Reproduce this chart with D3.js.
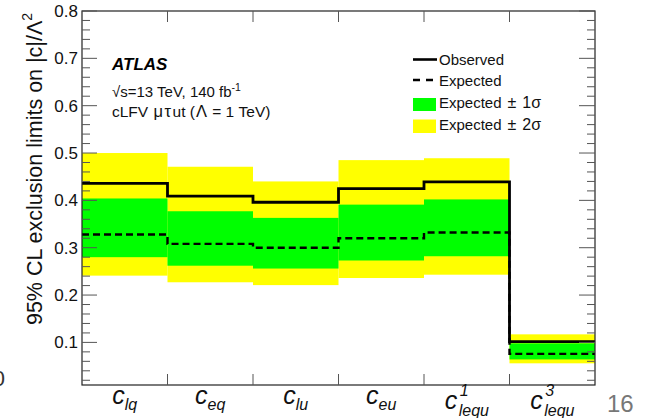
<!DOCTYPE html>
<html>
<head>
<meta charset="utf-8">
<script src="https://cdn.jsdelivr.net/npm/d3@7"></script>
<style>
  html, body { margin: 0; padding: 0; background: #fff; }
  svg { display: block; font-family: "Liberation Sans", Arial, Helvetica, sans-serif; }
</style>
</head>
<body>
<svg id="chart" width="648" height="418"></svg>
<script>
// Wilson coefficients (bin labels): base letter, subscript, superscript
const categories = ["lq", "eq", "lu", "eu", "lequ1", "lequ3"];
const labelSub = ["lq", "eq", "lu", "eu", "lequ", "lequ"];
const labelSup = ["", "", "", "", "1", "3"];

// 95% CL upper limits on |c|/Λ² (Λ = 1 TeV)
const observed   = [0.436, 0.409, 0.396, 0.425, 0.439, 0.1015];
const expected   = [0.328, 0.308, 0.300, 0.320, 0.332, 0.0757];
const oneSigLow  = [0.280, 0.262, 0.256, 0.273, 0.282, 0.064];
const oneSigHigh = [0.404, 0.377, 0.363, 0.391, 0.402, 0.098];
const twoSigLow  = [0.241, 0.227, 0.221, 0.236, 0.243, 0.0558];
const twoSigHigh = [0.500, 0.471, 0.440, 0.485, 0.489, 0.117];

const yMajorTicks = [0.1, 0.2, 0.3, 0.4, 0.5, 0.6, 0.7, 0.8];

const svg = d3.select("#chart");
const frame = { left: 82, right: 595, top: 11, bottom: 385 };

const x = d3.scaleBand().domain(categories).range([frame.left, frame.right]).paddingInner(0).paddingOuter(0);
const y = d3.scaleLinear().domain([0.01, 0.8]).range([frame.bottom, frame.top]);

const YELLOW = "#ffff00", GREEN = "#00ff00";

// ±2σ and ±1σ bands
const bands = svg.append("g");
categories.forEach((c, i) => {
  bands.append("rect")
    .attr("x", x(c)).attr("width", x.bandwidth())
    .attr("y", y(twoSigHigh[i])).attr("height", y(twoSigLow[i]) - y(twoSigHigh[i]))
    .attr("fill", YELLOW);
});
categories.forEach((c, i) => {
  bands.append("rect")
    .attr("x", x(c)).attr("width", x.bandwidth())
    .attr("y", y(oneSigHigh[i])).attr("height", y(oneSigLow[i]) - y(oneSigHigh[i]))
    .attr("fill", GREEN);
});

// step lines
function stepPoints(vals) {
  const pts = [];
  categories.forEach((c, i) => {
    pts.push([x(c), y(vals[i])]);
    pts.push([x(c) + x.bandwidth(), y(vals[i])]);
  });
  return pts;
}
const line = d3.line();
svg.append("path").attr("d", line(stepPoints(expected)))
  .attr("fill", "none").attr("stroke", "#000").attr("stroke-width", 2.4)
  .attr("stroke-dasharray", "7,4");
svg.append("path").attr("d", line(stepPoints(observed)))
  .attr("fill", "none").attr("stroke", "#000").attr("stroke-width", 2.8);

// frame
const axes = svg.append("g");
axes.append("rect")
  .attr("x", frame.left).attr("y", frame.top)
  .attr("width", frame.right - frame.left).attr("height", frame.bottom - frame.top)
  .attr("fill", "none").attr("stroke", "#222").attr("stroke-width", 1.2);

// y ticks (left and mirrored right)
const minorTicks = d3.range(2, 80, 2).map(v => v / 100).filter(v => Math.abs(v * 10 - Math.round(v * 10)) > 1e-6);
const TICK = "#555";
yMajorTicks.forEach(v => {
  axes.append("line").attr("x1", frame.left).attr("x2", frame.left + 15)
    .attr("y1", y(v)).attr("y2", y(v)).attr("stroke", TICK).attr("stroke-width", 1);
  axes.append("line").attr("x1", frame.right).attr("x2", frame.right - 16)
    .attr("y1", y(v)).attr("y2", y(v)).attr("stroke", TICK).attr("stroke-width", 1);
  axes.append("text").attr("x", frame.left - 4).attr("y", y(v) + 6)
    .attr("text-anchor", "end").attr("font-size", 17).attr("fill", "#111")
    .text(d3.format(".1f")(v));
});
minorTicks.forEach(v => {
  axes.append("line").attr("x1", frame.left).attr("x2", frame.left + 8)
    .attr("y1", y(v)).attr("y2", y(v)).attr("stroke", TICK).attr("stroke-width", 1);
  axes.append("line").attr("x1", frame.right).attr("x2", frame.right - 8)
    .attr("y1", y(v)).attr("y2", y(v)).attr("stroke", TICK).attr("stroke-width", 1);
});

// x ticks at bin edges, top and bottom
categories.slice(1).forEach(c => {
  const xe = x(c);
  axes.append("line").attr("x1", xe).attr("x2", xe).attr("y1", frame.bottom).attr("y2", frame.bottom - 11)
    .attr("stroke", TICK).attr("stroke-width", 1);
  axes.append("line").attr("x1", xe).attr("x2", xe).attr("y1", frame.top).attr("y2", frame.top + 11)
    .attr("stroke", TICK).attr("stroke-width", 1);
});

// x labels: c with subscript (and superscript)
categories.forEach((c, i) => {
  const cx = x(c) + x.bandwidth() / 2;
  if (!labelSup[i]) {
    const t = svg.append("text").attr("x", cx).attr("y", 404)
      .attr("text-anchor", "middle").attr("font-style", "italic").attr("fill", "#111");
    t.append("tspan").attr("font-size", 25).text("c");
    t.append("tspan").attr("font-size", 16).attr("dy", 6).text(labelSub[i]);
  } else {
    const left = cx - 22;
    svg.append("text").attr("x", left).attr("y", 409)
      .attr("font-style", "italic").attr("font-size", 25).attr("fill", "#111").text("c");
    svg.append("text").attr("x", left + 15).attr("y", 396)
      .attr("font-style", "italic").attr("font-size", 16).attr("fill", "#111").text(labelSup[i]);
    svg.append("text").attr("x", left + 14).attr("y", 416)
      .attr("font-style", "italic").attr("font-size", 16).attr("fill", "#111").text(labelSub[i]);
  }
});

// y axis title
const yt = svg.append("text")
  .attr("transform", "translate(42,169) rotate(-90)")
  .attr("text-anchor", "middle").attr("font-size", 21.5).attr("fill", "#111");
yt.append("tspan").text("95% CL exclusion limits on |c|/Λ");
yt.append("tspan").attr("font-size", 14).attr("dy", -10).text("2");

// ATLAS label block
svg.append("text").attr("x", 112).attr("y", 70)
  .attr("font-size", 17).attr("font-weight", "bold").attr("font-style", "italic")
  .attr("fill", "#000").text("ATLAS");
const ecm = svg.append("text").attr("x", 112).attr("y", 97).attr("font-size", 15).attr("fill", "#111");
ecm.append("tspan").text("√s=13 TeV, 140 fb");
ecm.append("tspan").attr("font-size", 10.5).attr("dy", -6).text("-1");
const proc = svg.append("text").attr("x", 112).attr("y", 117).attr("font-size", 15.5).attr("fill", "#111");
proc.append("tspan").text("cLFV ");
proc.append("tspan").attr("dx", 1).attr("font-size", 16.5).attr("letter-spacing", 1.5).text("μτ");
proc.append("tspan").text("ut (");
proc.append("tspan").attr("dx", 1).attr("font-size", 16.5).text("Λ");
proc.append("tspan").attr("dx", 1).text(" = 1 TeV)");

// legend
const lg = svg.append("g");
const lx = 413;
lg.append("line").attr("x1", lx).attr("x2", lx + 24).attr("y1", 59.5).attr("y2", 59.5)
  .attr("stroke", "#000").attr("stroke-width", 2.6);
lg.append("line").attr("x1", lx).attr("x2", lx + 24).attr("y1", 80).attr("y2", 80)
  .attr("stroke", "#000").attr("stroke-width", 2.4).attr("stroke-dasharray", "7,6");
lg.append("rect").attr("x", lx).attr("y", 98).attr("width", 23).attr("height", 13).attr("fill", GREEN);
lg.append("rect").attr("x", lx).attr("y", 119.5).attr("width", 23).attr("height", 13.5).attr("fill", YELLOW);
const legendText = [["Observed", "", 64.5], ["Expected", "", 85.5], ["Expected", "1σ", 108], ["Expected", "2σ", 130]];
legendText.forEach(([s, band, yy]) => {
  const t = lg.append("text").attr("x", lx + 26).attr("y", yy).attr("font-size", 15).attr("fill", "#111").text(s);
  if (band) {
    t.append("tspan").attr("dx", 6).attr("font-size", 16).text("±");
    t.append("tspan").attr("dx", 6).attr("font-size", 16).text(band);
  }
});

// slide page number and edge text
svg.append("text").attr("x", 607).attr("y", 412).attr("font-size", 24).attr("fill", "#777").text("16");
svg.append("text").attr("x", 5).attr("y", 386).attr("text-anchor", "end").attr("font-size", 22).attr("fill", "#333").text("0");
</script>
</body>
</html>
